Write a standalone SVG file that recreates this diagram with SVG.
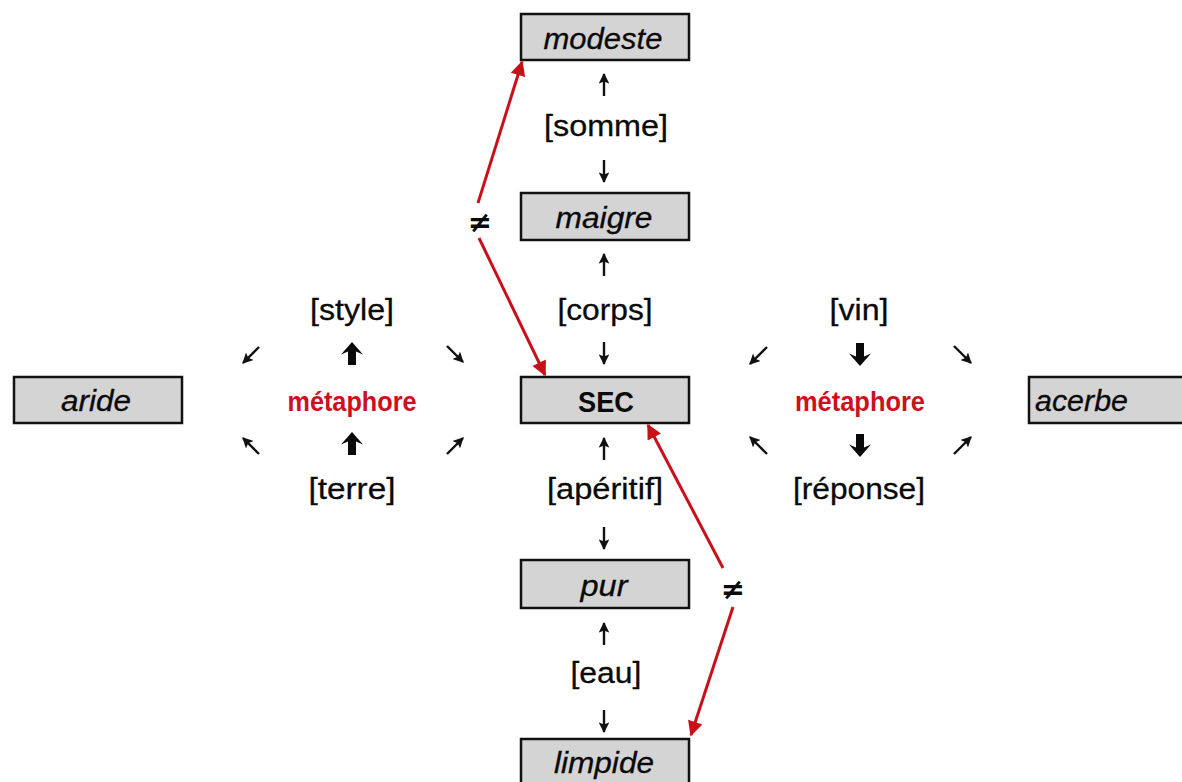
<svg xmlns="http://www.w3.org/2000/svg" width="1182" height="782" viewBox="0 0 1182 782">
<style>
.box{fill:#d4d4d4;stroke:#111;stroke-width:2.5}
.nl{font-family:"Liberation Sans",Arial,sans-serif;font-size:29px;font-style:italic;fill:#0a0a0a;text-anchor:middle;stroke:#0a0a0a;stroke-width:0.3}
.nb{font-family:"Liberation Sans",Arial,sans-serif;font-size:29px;font-weight:bold;fill:#0a0a0a;text-anchor:middle}
.lb{font-family:"Liberation Sans",Arial,sans-serif;font-size:30px;fill:#0a0a0a;text-anchor:middle;stroke:#0a0a0a;stroke-width:0.3}
.met{font-family:"Liberation Sans",Arial,sans-serif;font-size:27px;font-weight:bold;fill:#cc1020;text-anchor:middle}
.ne{font-family:"DejaVu Sans",sans-serif;font-size:29px;font-weight:bold;fill:#0a0a0a;text-anchor:middle}
.thin{stroke:#111;stroke-width:2.4;fill:none;marker-end:url(#ah)}
.red{stroke:#c8101a;stroke-width:3;fill:none;marker-end:url(#rh)}
.bold{fill:#0a0a0a}
</style>
<defs>
<marker id="ah" viewBox="0 0 10 10" refX="9" refY="5" markerWidth="4.4" markerHeight="4.4" orient="auto" markerUnits="strokeWidth">
<path d="M0,0 L10,5 L0,10 L2,5 Z" fill="#111"/>
</marker>
<marker id="rh" viewBox="0 0 10 10" refX="9" refY="5" markerWidth="6.5" markerHeight="5" orient="auto" markerUnits="strokeWidth">
<path d="M0,0 L10,5 L0,10 Z" fill="#c8101a"/>
</marker>
<path id="bup" d="M0,-12 L11,0.5 L4,-2.5 L4,11 L-4,11 L-4,-2.5 L-11,0.5 Z"/>
</defs>
<rect width="1182" height="782" fill="#fff"/>

<g id="node-modeste"><rect class="box" x="521" y="14" width="168" height="46"/><text class="nl" x="603" y="49" textLength="119" lengthAdjust="spacingAndGlyphs">modeste</text></g>
<g id="node-maigre"><rect class="box" x="521" y="193" width="168" height="47"/><text class="nl" x="604" y="228" textLength="97" lengthAdjust="spacingAndGlyphs">maigre</text></g>
<g id="node-sec"><rect class="box" x="521" y="377" width="168" height="46"/><text class="nb" x="606" y="412" textLength="56" lengthAdjust="spacingAndGlyphs">SEC</text></g>
<g id="node-pur"><rect class="box" x="521" y="560" width="168" height="48"/><text class="nl" x="604" y="596" textLength="47" lengthAdjust="spacingAndGlyphs">pur</text></g>
<g id="node-limpide"><rect class="box" x="521" y="739" width="168" height="50"/><text class="nl" x="604" y="773" textLength="100" lengthAdjust="spacingAndGlyphs">limpide</text></g>
<g id="node-aride"><rect class="box" x="14" y="377" width="168" height="46"/><text class="nl" x="96" y="411" textLength="70" lengthAdjust="spacingAndGlyphs">aride</text></g>
<g id="node-acerbe"><rect class="box" x="1029" y="377" width="170" height="46"/><text class="nl" x="1035" y="411" style="text-anchor:start" textLength="93" lengthAdjust="spacingAndGlyphs">acerbe</text></g>

<g id="connectors">
<!-- vertical thin arrows -->
<path class="thin" d="M604,96 V74"/>
<path class="thin" d="M604,160 V182"/>
<path class="thin" d="M604,276 V254"/>
<path class="thin" d="M604,342 V364"/>
<path class="thin" d="M604,460 V438"/>
<path class="thin" d="M604,527 V549"/>
<path class="thin" d="M604,645 V623"/>
<path class="thin" d="M604,710 V732"/>
<text class="lb" x="606" y="136" textLength="124" lengthAdjust="spacingAndGlyphs">[somme]</text>
<text class="lb" x="605" y="320" textLength="95" lengthAdjust="spacingAndGlyphs">[corps]</text>
<text class="lb" x="605" y="499" textLength="116" lengthAdjust="spacingAndGlyphs">[apéritif]</text>
<text class="lb" x="606" y="683" textLength="71" lengthAdjust="spacingAndGlyphs">[eau]</text>

<!-- left metaphor cluster -->
<text class="lb" x="352" y="320" textLength="84" lengthAdjust="spacingAndGlyphs">[style]</text>
<text class="lb" x="352" y="499" textLength="87" lengthAdjust="spacingAndGlyphs">[terre]</text>
<text class="met" x="352" y="411" textLength="129" lengthAdjust="spacingAndGlyphs">métaphore</text>
<use href="#bup" class="bold" transform="translate(352,354)"/>
<use href="#bup" class="bold" transform="translate(352,444)"/>
<path class="thin" d="M259,347 L243,363"/>
<path class="thin" d="M447,346 L463,362"/>
<path class="thin" d="M259,454 L243,438"/>
<path class="thin" d="M447,454 L463,438"/>

<!-- right metaphor cluster -->
<text class="lb" x="859" y="320" textLength="59" lengthAdjust="spacingAndGlyphs">[vin]</text>
<text class="lb" x="859" y="499" textLength="132" lengthAdjust="spacingAndGlyphs">[réponse]</text>
<text class="met" x="860" y="411" textLength="130" lengthAdjust="spacingAndGlyphs">métaphore</text>
<use href="#bup" class="bold" transform="translate(860,354) rotate(180)"/>
<use href="#bup" class="bold" transform="translate(860,445) rotate(180)"/>
<path class="thin" d="M767,347 L750,364"/>
<path class="thin" d="M954,346 L971,363"/>
<path class="thin" d="M767,454 L750,437"/>
<path class="thin" d="M954,454 L971,437"/>

<!-- red opposition arrows -->
<path class="red" d="M478,203 L522,62"/>
<path class="red" d="M479,238 L545,375"/>
<text class="ne" x="480" y="232">≠</text>
<path class="red" d="M723,568 L648,425"/>
<path class="red" d="M733,607 L691,735"/>
<text class="ne" x="733" y="599">≠</text>
</g>
</svg>
